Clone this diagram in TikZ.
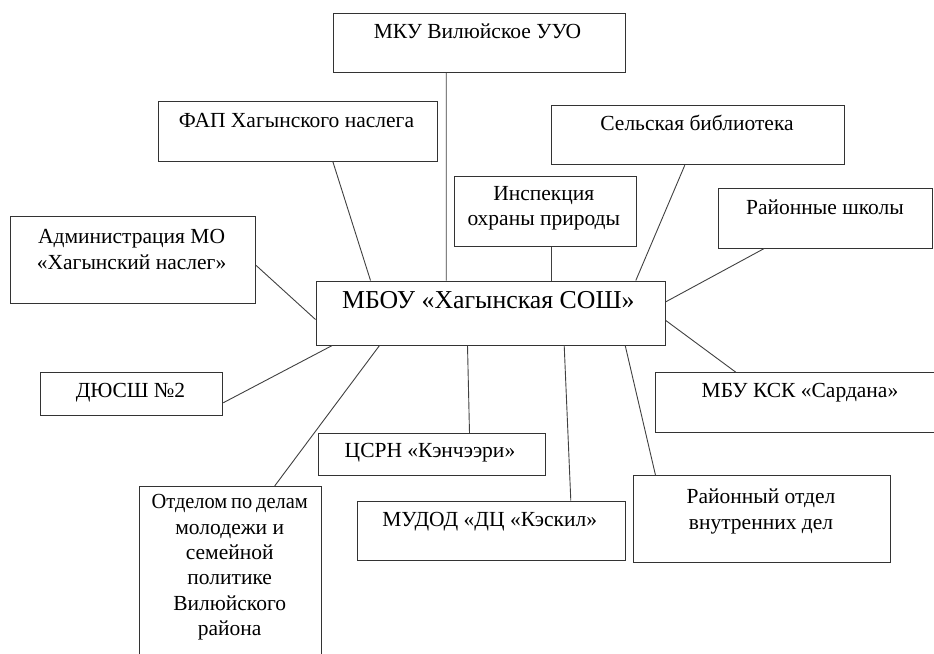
\documentclass[tikz,border=0pt]{standalone}
\usepackage{fontspec}
\setmainfont{Liberation Serif}
\tikzset{
  box/.style={draw=black!80, line width=1pt, inner sep=0pt, rectangle},
  txt/.style={anchor=base, inner sep=0pt, align=center, font=\fontsize{21.5}{25.3}\selectfont, text=black},
  big/.style={txt, font=\fontsize{25.8}{30}\selectfont},
  con/.style={draw=black!75, line width=0.9pt}
}
\begin{document}
\begin{tikzpicture}[x=1pt,y=-1pt]
\useasboundingbox (0,0) rectangle (934,653);
% boxes
\node[box, minimum width=292.7, minimum height=59]   (mku)   at (479.35,42.8) {};
\node[box, minimum width=279.3, minimum height=59.3] (fap)   at (297.65,131.35) {};
\node[box, minimum width=245,   minimum height=87]   (adm)   at (133.2,259.5) {};
\node[box, minimum width=349.3, minimum height=64]   (main)  at (490.65,313) {};
\node[box, minimum width=182,   minimum height=70]   (insp)  at (545.3,211.7) {};
\node[box, minimum width=292.6, minimum height=59]   (lib)   at (698,135.2) {};
\node[box, minimum width=214,   minimum height=59.3] (sch)   at (825.7,218.35) {};
\node[box, minimum width=182,   minimum height=42.6] (dyu)   at (131.7,394) {};
\node[box, minimum width=226.3, minimum height=42]   (csrn)  at (431.85,454.7) {};
\node[box, minimum width=182,   minimum height=183.7] (otd)  at (230.7,578.15) {};
\node[box, minimum width=268,   minimum height=59]   (mudod) at (491,530.5) {};
\node[box, minimum width=289.3, minimum height=59.3] (mbu)   at (800.35,402.35) {};
\node[box, minimum width=257,   minimum height=86.3] (rovd)  at (761.5,518.85) {};
% texts (multi-line: anchor at last baseline)
\node[txt] (mku-t)   at (477.5,38.3)  {МКУ Вилюйское УУО};
\node[txt] (fap-t)   at (296.5,127.7) {ФАП Хагынского наслега};
\node[txt] (adm-t)   at (131.6,269)   {Администрация МО\\«Хагынский наслег»};
\node[big] (main-t)  at (488.3,308)   {МБОУ «Хагынская СОШ»};
\node[txt] (insp-t)  at (543.8,225.7) {Инспекция\\охраны природы};
\node[txt] (lib-t)   at (697,130)     {Сельская библиотека};
\node[txt] (sch-t)   at (825,214.3)   {Районные школы};
\node[txt] (dyu-t)   at (130.5,397.3) {ДЮСШ №2};
\node[txt] (csrn-t)  at (430,457.7)   {ЦСРН «Кэнчээри»};
\node[txt] (otd-t)   at (229.7,635.3) {\scalebox{0.95}[1]{Отделом\hspace{4pt}по\hspace{4pt}делам}\\молодежи и\\семейной\\политике\\Вилюйского\\района};
\node[txt] (mudod-t) at (489.7,526.7) {МУДОД «ДЦ «Кэскил»};
\node[txt] (mbu-t)   at (800,397.3)   {МБУ КСК «Сардана»};
\node[txt] (rovd-t)  at (761,529)     {Районный отдел\\внутренних дел};
% connectors
\draw[con] ([xshift=113.7]mku.south west) -- ([xshift=130.7]main.north west);
\draw[con] ([xshift=175.3]fap.south west) -- ([xshift=55]main.north west);
\draw[con] ([yshift=-50]adm.north east) -- ([yshift=-39]main.north west);
\draw[con] ([xshift=97.7]insp.south west) -- ([xshift=236]main.north west);
\draw[con] ([xshift=133.6]lib.south west) -- ([xshift=320.3]main.north west);
\draw[con] ([xshift=46]sch.south west) -- ([yshift=-21.3]main.north east);
\draw[con] ([yshift=-40]main.north east) -- ([xshift=80.6]mbu.north west);
\draw[con] ([yshift=-30.6]dyu.north east) -- ([xshift=16.7]main.south west);
\draw[con] ([xshift=135.6]otd.north west) -- ([xshift=64]main.south west);
\draw[con] ([xshift=152]main.south west) -- ([xshift=151.3]csrn.north west);
\draw[con] ([xshift=248.7]main.south west) -- ([xshift=214.3]mudod.north west);
\draw[con] ([xshift=309.7]main.south west) -- ([xshift=23]rovd.north west);
\end{tikzpicture}
\end{document}
